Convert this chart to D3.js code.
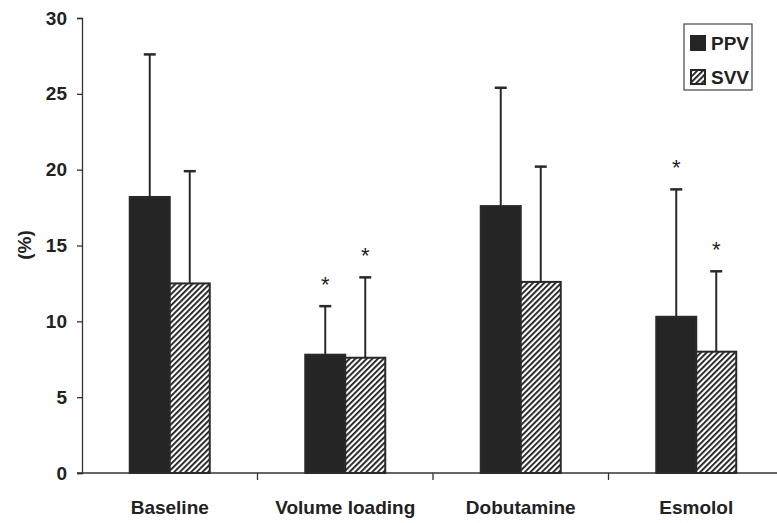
<!DOCTYPE html>
<html>
<head>
<meta charset="utf-8">
<script src="https://cdn.jsdelivr.net/npm/d3@7"></script>
<style>
  body { margin: 0; background: #fff; }
  text { font-family: "Liberation Sans", Arial, sans-serif; fill: #222; }
</style>
</head>
<body>
<div id="chart"></div>
<script>
const categories = ['Baseline', 'Volume loading', 'Dobutamine', 'Esmolol'];
const series = ['PPV', 'SVV'];
const ppvMean = [18.2, 7.8, 17.6, 10.3];
const ppvSd = [9.4, 3.2, 7.8, 8.4];
const svvMean = [12.5, 7.6, 12.6, 8.0];
const svvSd = [7.4, 5.3, 7.6, 5.3];
const ppvStar = [false, true, false, true];
const svvStar = [false, true, false, true];
const yTicks = [0, 5, 10, 15, 20, 25, 30];

const width = 777;
const height = 523;
const margin = { top: 18, right: -7, bottom: 50, left: 82 };
const fontSize = 19;

const svg = d3.select('#chart')
    .append('svg')
    .attr('width', width)
    .attr('height', height);

// diagonal hatch for SVV
const defs = svg.append('defs');
const hatch = defs.append('pattern')
    .attr('id', 'hatch')
    .attr('patternUnits', 'userSpaceOnUse')
    .attr('width', 4)
    .attr('height', 4)
    .attr('patternTransform', 'rotate(45)');
hatch.append('rect').attr('width', 4).attr('height', 4).attr('fill', '#fff');
hatch.append('rect').attr('x', 0).attr('width', 1.8).attr('height', 4).attr('fill', '#1a1a1a');

const x = d3.scaleBand()
    .domain(categories)
    .range([margin.left, width - margin.right]);

const xSub = d3.scaleBand()
    .domain(series)
    .range([0, 80]);

const y = d3.scaleLinear()
    .domain([0, 30])
    .range([height - margin.bottom, margin.top]);

// y axis
const yAxis = svg.append('g')
    .attr('transform', `translate(${margin.left},0)`)
    .call(d3.axisLeft(y).tickValues(yTicks).tickSize(5).tickPadding(10));
yAxis.select('.domain').attr('stroke', '#333').attr('stroke-width', 1.3);
yAxis.selectAll('.tick line').attr('stroke', '#333').attr('stroke-width', 1.3);
yAxis.selectAll('.tick text')
    .attr('font-size', fontSize)
    .attr('font-weight', 'bold')
    .attr('fill', '#222')
    .attr('font-family', '"Liberation Sans", Arial, sans-serif');

// x axis
const y0 = y(0);
svg.append('line')
    .attr('x1', margin.left - 5).attr('x2', width)
    .attr('y1', y0).attr('y2', y0)
    .attr('stroke', '#333').attr('stroke-width', 1.3);
svg.selectAll('.xtick')
    .data(categories.slice(1))
    .enter().append('line')
    .attr('x1', d => x(d)).attr('x2', d => x(d))
    .attr('y1', y0).attr('y2', y0 + 7)
    .attr('stroke', '#333').attr('stroke-width', 1.3);
svg.selectAll('.xlabel')
    .data(categories)
    .enter().append('text')
    .attr('x', d => x(d) + x.bandwidth() / 2)
    .attr('y', 514)
    .attr('text-anchor', 'middle')
    .attr('font-size', fontSize)
    .attr('font-weight', 'bold')
    .text(d => d);

svg.append('text')
    .attr('transform', 'translate(31,245) rotate(-90)')
    .attr('text-anchor', 'middle')
    .attr('font-size', fontSize)
    .attr('font-weight', 'bold')
    .text('(%)');

// bars
const rows = categories.map((c, i) => [
    { cat: c, s: 'PPV', mean: ppvMean[i], sd: ppvSd[i], star: ppvStar[i] },
    { cat: c, s: 'SVV', mean: svvMean[i], sd: svvSd[i], star: svvStar[i] }
]).flat();

const groupOffset = (x.bandwidth() - xSub.range()[1]) / 2;
const bx = d => x(d.cat) + groupOffset + xSub(d.s);

// error bars first so bars sit on top
const err = svg.append('g');
err.selectAll('line.stem')
    .data(rows)
    .enter().append('line')
    .attr('x1', d => bx(d) + xSub.bandwidth() / 2)
    .attr('x2', d => bx(d) + xSub.bandwidth() / 2)
    .attr('y1', d => y(d.mean))
    .attr('y2', d => y(d.mean + d.sd))
    .attr('stroke', '#2a2a2a').attr('stroke-width', 2);
err.selectAll('line.cap')
    .data(rows)
    .enter().append('line')
    .attr('x1', d => bx(d) + xSub.bandwidth() / 2 - 6)
    .attr('x2', d => bx(d) + xSub.bandwidth() / 2 + 6)
    .attr('y1', d => y(d.mean + d.sd))
    .attr('y2', d => y(d.mean + d.sd))
    .attr('stroke', '#2a2a2a').attr('stroke-width', 2.5);

svg.selectAll('rect.bar')
    .data(rows)
    .enter().append('rect')
    .attr('x', d => bx(d))
    .attr('y', d => y(d.mean))
    .attr('width', xSub.bandwidth())
    .attr('height', d => y0 - y(d.mean))
    .attr('fill', d => d.s === 'PPV' ? '#252525' : 'url(#hatch)')
    .attr('stroke', '#2a2a2a')
    .attr('stroke-width', 2);

svg.selectAll('text.star')
    .data(rows.filter(d => d.star))
    .enter().append('text')
    .attr('x', d => bx(d) + xSub.bandwidth() / 2)
    .attr('y', d => y(d.mean + d.sd) - 14)
    .attr('text-anchor', 'middle')
    .attr('font-size', 22)
    .text('*');

// legend
const legend = svg.append('g').attr('transform', 'translate(684,24)');
legend.append('rect')
    .attr('width', 68).attr('height', 66)
    .attr('fill', '#fff').attr('stroke', '#444').attr('stroke-width', 1.2);
series.forEach((s, i) => {
    const g = legend.append('g').attr('transform', `translate(7,${12 + i * 34})`);
    g.append('rect')
        .attr('width', 14).attr('height', 14)
        .attr('fill', i === 0 ? '#252525' : 'url(#hatch)')
        .attr('stroke', '#252525').attr('stroke-width', 2);
    g.append('text')
        .attr('x', 20).attr('y', 14)
        .attr('font-size', fontSize)
        .attr('font-weight', 'bold')
        .text(s);
});
</script>
</body>
</html>
